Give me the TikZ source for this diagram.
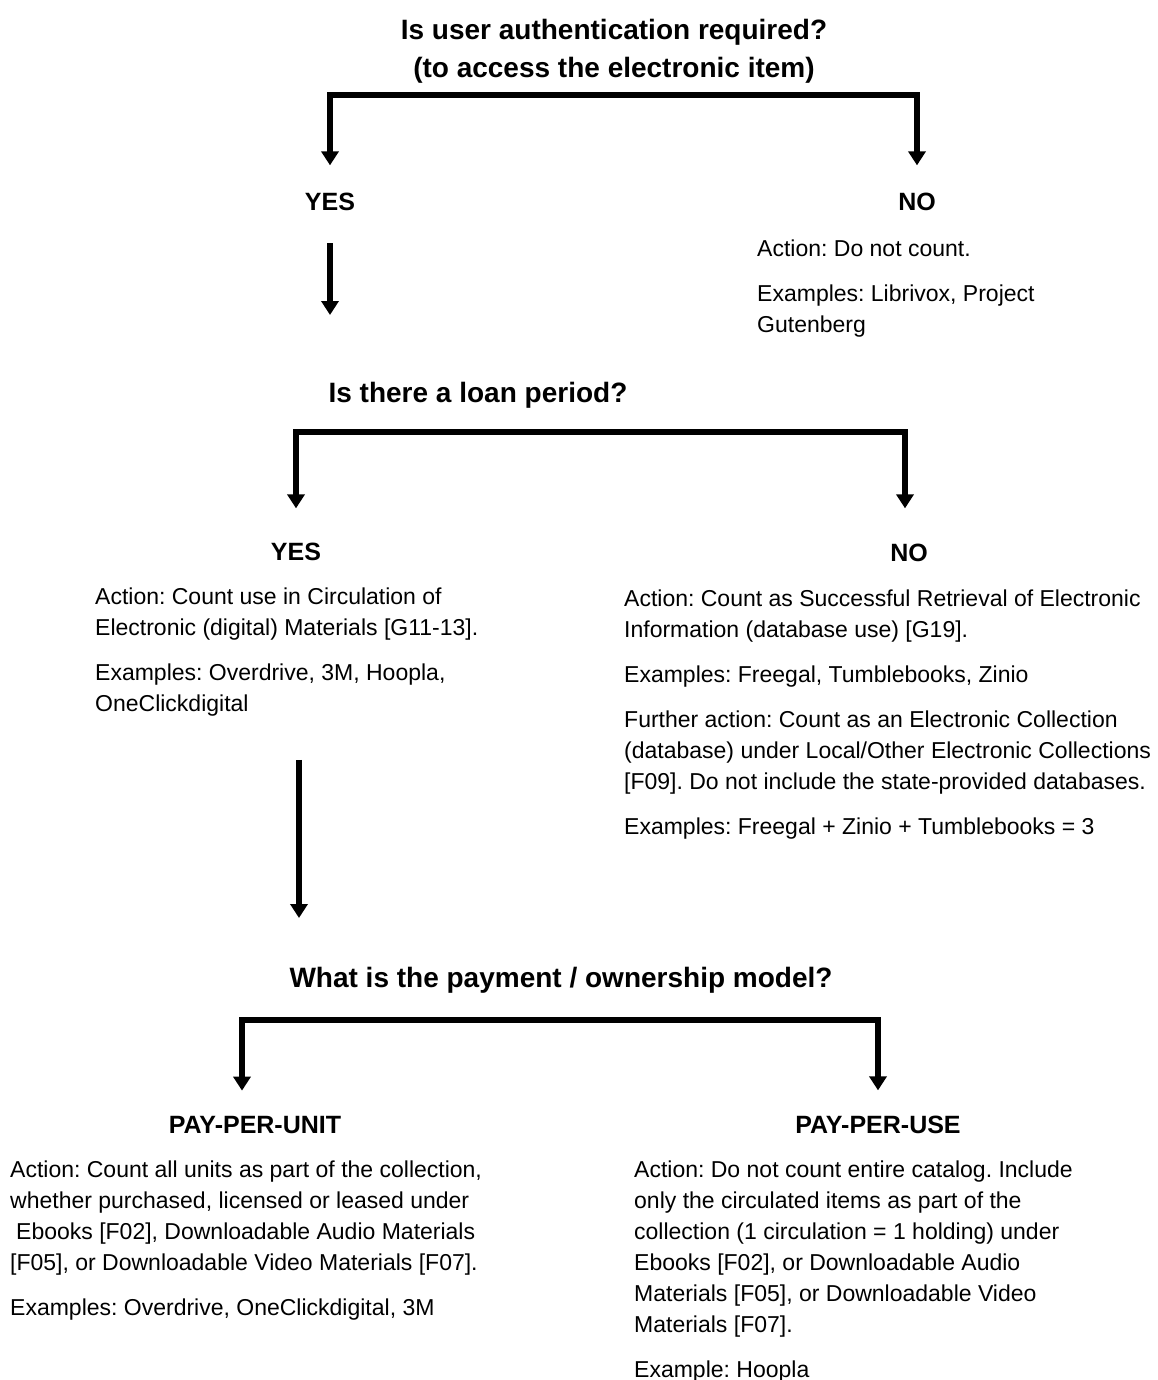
\documentclass[tikz,border=0pt]{standalone}
\usepackage{fontspec}
\setmainfont{Liberation Sans}
\usepackage{tikz}
\usetikzlibrary{positioning,arrows.meta,calc}

\begin{document}
\frenchspacing
\begin{tikzpicture}[x=1pt,y=-1pt,
        question/.style={font=\fontsize{28}{38}\selectfont\bfseries, align=center, inner sep=0pt, anchor=base},
        answer/.style={font=\fontsize{25}{30}\selectfont\bfseries, inner sep=0pt, anchor=base},
        info/.style={font=\fontsize{23}{31}\selectfont, align=left, inner sep=0pt, anchor=base west},
        fork/.style={line width=5.5pt, {Triangle[width=17pt,length=14pt]}-{Triangle[width=17pt,length=14pt]}},
        down/.style={line width=5.5pt, -{Triangle[width=17pt,length=14pt]}}]
    \useasboundingbox (0,0) rectangle (1157,1380);

    % first question (base = last line)
    \node[question] (auth) at (614,78) {Is user authentication required?\\(to access the electronic item)};
    \coordinate (bar1) at (614,95);
    \node[answer] (yes1) at (330,211) {YES};
    \node[answer] (no1) at (917,211) {NO};
    \node[info] (noauth) at (757,332) {Action: Do not count.\\[14pt]Examples: Librivox, Project\\Gutenberg};
    \coordinate (e1) at (330,315);

    % second question
    \node[question] (loan) at (478,402) {Is there a loan period?};
    \coordinate (bar2) at (600,432);
    \node[answer] (yes2) at (296,560) {YES};
    \node[answer] (no2) at (909,561) {NO};
    \node[info] (loanyes) at (95,711) {Action: Count use in Circulation of\\Electronic (digital) Materials [G11-13].\\[14pt]Examples: Overdrive, 3M, Hoopla,\\OneClickdigital};
    \node[info] (loanno) at (624,834) {Action: Count as Successful Retrieval of Electronic\\Information (database use) [G19].\\[14pt]Examples: Freegal, Tumblebooks, Zinio\\[14pt]Further action: Count as an Electronic Collection\\(database) under Local/Other Electronic Collections\\{[F09]}. Do not include the state-provided databases.\\[14pt]Examples: Freegal + Zinio + Tumblebooks = 3};
    \coordinate (e2) at (299,918);

    % third question
    \node[question] (model) at (561,987) {What is the payment / ownership model?};
    \coordinate (bar3) at (561,1020);
    \node[answer] (unit) at (255,1133) {PAY-PER-UNIT};
    \node[answer] (use) at (878,1133) {PAY-PER-USE};
    \node[info] (unitinfo) at (10,1315) {Action: Count all units as part of the collection,\\whether purchased, licensed or leased under\\\hspace{6pt}Ebooks [F02], Downloadable Audio Materials\\{[F05]}, or Downloadable Video Materials [F07].\\[14pt]Examples: Overdrive, OneClickdigital, 3M};
    \node[info] (useinfo) at (634,1377) {Action: Do not count entire catalog. Include\\only the circulated items as part of the\\collection (1 circulation = 1 holding) under\\Ebooks [F02], or Downloadable Audio\\Materials [F05], or Downloadable Video\\Materials [F07].\\[14pt]Example: Hoopla};

    % connectors
    \draw[fork, shorten <=28pt, shorten >=28pt] (yes1.north) |- (bar1) -| (no1.north);
    \draw[down, shorten <=32pt] (yes1.south) -- (e1);
    \draw[fork, shorten <=34pt, shorten >=35pt] (yes2.north) |- (bar2) -| ([xshift=-4pt]no2.north);
    \draw[down, shorten <=44pt] (loanyes.south -| e2) -- (e2);
    \draw[fork, shorten <=25pt, shorten >=25pt] ([xshift=-13pt]unit.north) |- (bar3) -| (use.north);
\end{tikzpicture}
\end{document}
